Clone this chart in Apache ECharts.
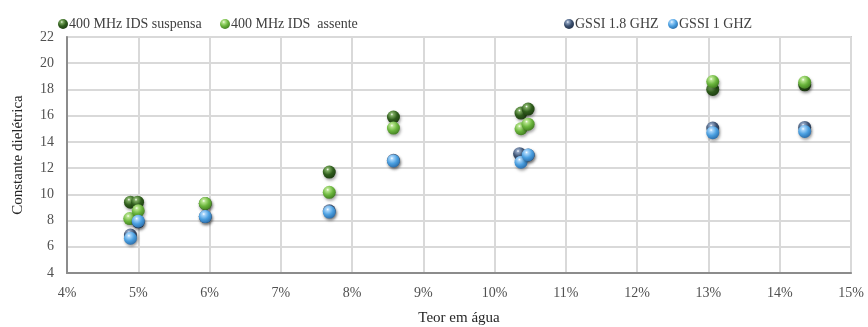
<!DOCTYPE html>
<html><head><meta charset="utf-8">
<script src="https://cdn.jsdelivr.net/npm/echarts@6/dist/echarts.min.js"></script>
<style>html,body{margin:0;padding:0;background:#fff}#c{width:868px;height:327px}</style>
</head><body><div id="c"></div>
<script>
const seriesNames = ['400 MHz IDS suspensa', '400 MHz IDS  assente', 'GSSI 1.8 GHZ', 'GSSI 1 GHZ'];
const teorSuspensa = [4.89, 4.99, 5.94, 7.68, 8.58, 10.37, 10.47, 13.06, 14.35];
const valSuspensa  = [9.4, 9.4, 9.3, 11.7, 15.9, 16.2, 16.5, 18.0, 18.35];
const teorAssente  = [4.88, 5.0, 5.94, 7.68, 8.58, 10.37, 10.47, 13.06, 14.35];
const valAssente   = [8.15, 8.75, 9.3, 10.15, 15.05, 15.0, 15.35, 18.6, 18.55];
const teorGssi18   = [4.89, 5.0, 5.94, 7.68, 8.58, 10.35, 10.47, 13.06, 14.35];
const valGssi18    = [6.9, 7.9, 8.3, 8.75, 12.6, 13.1, 13.0, 15.05, 15.1];
const teorGssi1    = [4.89, 5.0, 5.94, 7.68, 8.58, 10.37, 10.47, 13.06, 14.35];
const valGssi1     = [6.65, 7.95, 8.3, 8.65, 12.55, 12.45, 13.0, 14.7, 14.8];
const xTicks = [4,5,6,7,8,9,10,11,12,13,14,15];
const yTicks = [4,6,8,10,12,14,16,18,20,22];

const baseColors = ['#2f5d1c', '#6ab53c', '#3a4f6e', '#4a9fe0'];
const lightColors = ['#7fae63', '#b8e58f', '#8fa3c2', '#a9d6fb'];
const darkColors = ['#1c3a10', '#3f7a1f', '#233249', '#2a6aa6'];
function sphere(i){
  return new echarts.graphic.RadialGradient(0.38, 0.3, 0.75, [
    {offset:0, color:'#ffffff'},
    {offset:0.15, color:lightColors[i]},
    {offset:0.55, color:baseColors[i]},
    {offset:1, color:darkColors[i]}
  ]);
}
function pairs(xs, ys){ return xs.map((x,i)=>[x, ys[i]]); }
const allX = [teorSuspensa, teorAssente, teorGssi18, teorGssi1];
const allY = [valSuspensa, valAssente, valGssi18, valGssi1];
const font = 'Liberation Serif';
const legendLefts = [53, 215, 559, 663];

const chart = echarts.init(document.getElementById('c'), null, {renderer:'canvas'});
chart.setOption({
  animation:false,
  backgroundColor:'#fff',
  legend: seriesNames.map((n,i)=>({
    data:[{name:n, itemStyle:{color:sphere(i)}}],
    left: legendLefts[i], top: 12,
    icon:'circle', itemWidth:10, itemHeight:10, itemGap:0,
    textStyle:{fontFamily:font, fontSize:14, color:'#404040', padding:[0,0,0,-4]},
    selectedMode:false
  })),
  grid:{left:67, right:17, top:37, bottom:54, show:true, borderColor:'#a6a6a6', borderWidth:1.5, containLabel:false, outerBoundsMode:'none'},
  xAxis:{
    type:'value', min:4, max:15, interval:1,
    name:'Teor em água', nameLocation:'middle', nameGap:38,
    nameTextStyle:{fontFamily:font, fontSize:15, color:'#262626'},
    axisLine:{show:true, lineStyle:{color:'#8c8c8c', width:2}},
    axisTick:{show:false},
    axisLabel:{fontFamily:font, fontSize:14, color:'#505050', margin:13, formatter:v=>xTicks.includes(v)?v+'%':''},
    splitLine:{show:true, lineStyle:{color:'#d9d9d9', width:2}}
  },
  yAxis:{
    type:'value', min:4, max:22, interval:2,
    name:'Constante dielétrica', nameLocation:'middle', nameGap:41,
    nameTextStyle:{fontFamily:font, fontSize:15, color:'#262626'},
    axisLine:{show:true, lineStyle:{color:'#8c8c8c', width:2}},
    axisTick:{show:false},
    axisLabel:{fontFamily:font, fontSize:14, color:'#505050', margin:13, formatter:v=>yTicks.includes(v)?String(v):''},
    splitLine:{show:true, lineStyle:{color:'#d9d9d9', width:2}}
  },
  series: seriesNames.map((n,i)=>({
    name:n, type:'scatter', symbol:'circle', symbolSize:13,
    data: pairs(allX[i], allY[i]),
    itemStyle:{color:sphere(i), shadowColor:'rgba(0,0,0,0.35)', shadowBlur:3, shadowOffsetX:1, shadowOffsetY:2, opacity:1},
    z: 2+i
  }))
});
</script></body></html>
